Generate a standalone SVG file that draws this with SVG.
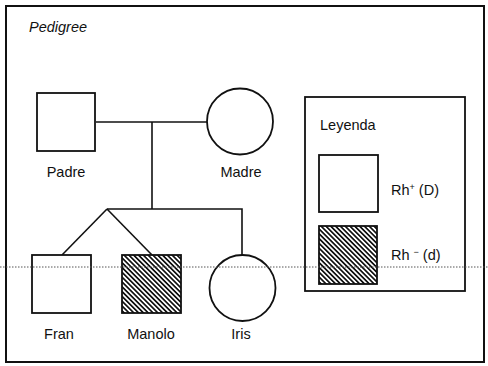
<svg xmlns="http://www.w3.org/2000/svg" width="488" height="366" viewBox="0 0 488 366">
<style>
.n{fill:#fff;stroke:#111;stroke-width:1.8}
.h{fill:url(#hatch);stroke:#111;stroke-width:1.8}
.c{fill:none;stroke:#111;stroke-width:1.6}
.t{font-family:"Liberation Sans","Open Sans",sans-serif;font-size:14.5px;fill:#111}
.dot{stroke:#555;stroke-width:1;stroke-dasharray:1.5 1.5;fill:none}
</style>
<defs>
<pattern id="hatch" patternUnits="userSpaceOnUse" width="3.4" height="3.4" patternTransform="rotate(45)">
<rect width="3.4" height="3.4" fill="#fff"/>
<rect width="3.4" height="1.7" fill="#111"/>
</pattern>
</defs>
<rect x="0" y="0" width="488" height="366" fill="#fff"/>
<rect x="6" y="6" width="478" height="356" fill="none" stroke="#111" stroke-width="2"/>
<text class="t" x="29" y="32" font-style="italic" font-size="15">Pedigree</text>
<g id="connectors">
<line class="c" x1="96" y1="122" x2="207" y2="122"/>
<line class="c" x1="152" y1="122" x2="152" y2="209"/>
<polyline class="c" points="242,255 242,209 107,209"/>
<line class="c" x1="107" y1="209" x2="62" y2="255"/>
<line class="c" x1="107" y1="209" x2="152" y2="255"/>
</g>
<g id="padre">
<rect class="n" x="37" y="93" width="58" height="58"/>
<text class="t" x="66" y="177" text-anchor="middle">Padre</text>
</g>
<g id="madre">
<circle class="n" cx="240" cy="121.5" r="33"/>
<text class="t" x="241" y="177" text-anchor="middle">Madre</text>
</g>
<g id="fran">
<rect class="n" x="32" y="255" width="59" height="58"/>
<text class="t" x="59" y="339" text-anchor="middle">Fran</text>
</g>
<g id="manolo">
<rect class="h" x="122" y="255" width="59" height="58"/>
<text class="t" x="151" y="339" text-anchor="middle">Manolo</text>
</g>
<g id="iris">
<circle class="n" cx="242.5" cy="288" r="33"/>
<text class="t" x="241" y="339" text-anchor="middle">Iris</text>
</g>
<g id="legend">
<rect x="305" y="97" width="160" height="194" fill="none" stroke="#111" stroke-width="1.8"/>
<text class="t" x="320" y="130">Leyenda</text>
<rect class="n" x="319" y="155" width="59" height="57"/>
<text class="t" x="391" y="195">Rh<tspan font-size="9" dy="-5">+</tspan><tspan dy="5"> (D)</tspan></text>
<rect class="h" x="319" y="226" width="58" height="58"/>
<text class="t" x="391" y="260">Rh <tspan font-size="9" dy="-5">−</tspan><tspan dy="5"> (d)</tspan></text>
</g>
<line class="dot" x1="0" y1="267" x2="488" y2="267"/>
</svg>
